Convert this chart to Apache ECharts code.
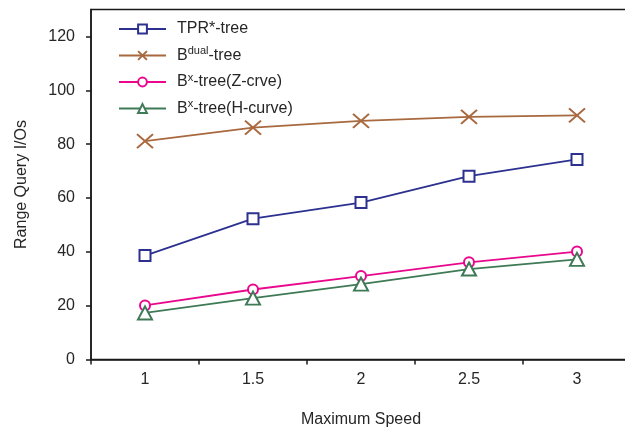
<!DOCTYPE html>
<html>
<head>
<meta charset="utf-8">
<script src="https://cdn.jsdelivr.net/npm/echarts@6/dist/echarts.min.js"></script>
<style>
html,body{margin:0;padding:0;background:#fff;}
#c{width:625px;height:433px;}
</style>
</head>
<body>
<div id="c"></div>
<script>
const categories = ['1', '1.5', '2', '2.5', '3'];
const yTicks = [0, 20, 40, 60, 80, 100, 120];
const tprTree = [38.6, 52.3, 58.3, 68.1, 74.3];
const bDualTree = [81.1, 86.1, 88.6, 90.1, 90.7];
const bxZcurve = [20.1, 26.0, 31.0, 36.1, 40.1];
const bxHcurve = [17.3, 22.8, 28.0, 33.6, 37.2];

const names = ['TPR*-tree', 'B^dual-tree', 'B^x-tree(Z-crve)', 'B^x-tree(H-curve)'];
const legendRich = {
  'TPR*-tree': '{g|}{n|TPR*-tree}',
  'B^dual-tree': '{g|}{n|B}{s|dual}{n|-tree}',
  'B^x-tree(Z-crve)': '{g|}{n|B}{s|x}{n|-tree(Z-crve)}',
  'B^x-tree(H-curve)': '{g|}{n|B}{s|x}{n|-tree(H-curve)}'
};

const FONT = 'Liberation Sans, Arial, sans-serif';
const TXT = '#262626';
const AX = '#1a1a1a';

const chart = echarts.init(document.getElementById('c'), null, {renderer: 'canvas'});
chart.setOption({
  animation: false,
  backgroundColor: '#fff',
  textStyle: {fontFamily: FONT},
  grid: {
    left: 91, top: 9.5, width: 540, height: 350,
    show: true, borderColor: AX, borderWidth: 1.5, backgroundColor: 'transparent',
    containLabel: false, outerBoundsMode: 'none'
  },
  legend: {
    orient: 'vertical', left: 118, top: 21, padding: 0,
    itemWidth: 47, itemHeight: 11, itemGap: 8.5,
    data: names,
    formatter: function (n) { return legendRich[n]; },
    textStyle: {
      color: TXT, fontFamily: FONT, fontSize: 16,
      rich: {
        g: {width: 6},
        n: {fontSize: 16, color: TXT, fontFamily: FONT, lineHeight: 20},
        s: {fontSize: 11, color: TXT, fontFamily: FONT, verticalAlign: 'top', lineHeight: 11}
      }
    }
  },
  xAxis: {
    type: 'category', data: categories, boundaryGap: true,
    name: 'Maximum Speed', nameLocation: 'middle', nameGap: 52,
    nameTextStyle: {color: TXT, fontSize: 16, fontFamily: FONT},
    axisLine: {lineStyle: {color: AX, width: 1.5}},
    axisTick: {show: true, alignWithLabel: false, length: 5, lineStyle: {color: AX, width: 1.5}},
    axisLabel: {color: TXT, fontSize: 16, fontFamily: FONT, margin: 12},
    splitLine: {show: false}
  },
  yAxis: {
    type: 'value', min: 0, max: 130, interval: 20,
    name: 'Range Query I/Os', nameLocation: 'middle', nameGap: 61,
    nameTextStyle: {color: TXT, fontSize: 16, fontFamily: FONT},
    axisLine: {show: true, lineStyle: {color: AX, width: 1.5}},
    axisTick: {show: true, length: 5, lineStyle: {color: AX, width: 1.5}, customValues: yTicks},
    axisLabel: {color: TXT, fontSize: 16, fontFamily: FONT, margin: 16, customValues: yTicks},
    splitLine: {show: false}
  },
  series: [
    {
      name: names[0], type: 'line', data: tprTree,
      symbol: 'emptyRect', symbolSize: 11,
      itemStyle: {color: '#2c3190', borderWidth: 2},
      lineStyle: {color: '#2c3190', width: 1.8}
    },
    {
      name: names[1], type: 'line', data: bDualTree,
      symbol: 'path://M0,0L10,10M10,0L0,10', symbolSize: [16, 14],
      itemStyle: {color: 'rgba(0,0,0,0)', borderColor: '#a8693f', borderWidth: 2},
      lineStyle: {color: '#a8693f', width: 1.8}
    },
    {
      name: names[2], type: 'line', data: bxZcurve,
      symbol: 'emptyCircle', symbolSize: 10,
      itemStyle: {color: '#e8078d', borderWidth: 2},
      lineStyle: {color: '#e8078d', width: 1.8}
    },
    {
      name: names[3], type: 'line', data: bxHcurve,
      symbol: 'emptyTriangle', symbolSize: [14, 13],
      itemStyle: {color: '#3f7a57', borderWidth: 2},
      lineStyle: {color: '#3f7a57', width: 1.8}
    }
  ]
});
</script>
</body>
</html>
